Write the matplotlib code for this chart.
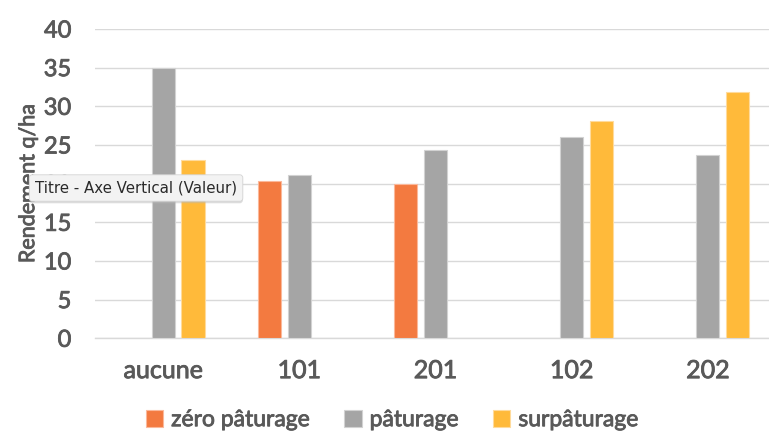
import numpy as np
from matplotlib import pyplot as plt
from matplotlib import patheffects as pe

# Rendement par conduite de pâturage
categories = ['aucune', '101', '201', '102', '202']
series_names = ['zéro pâturage', 'pâturage', 'surpâturage']
zero_paturage = [np.nan, 20.4, 19.9, np.nan, np.nan]
paturage = [34.9, 21.1, 24.3, 26.0, 23.7]
surpaturage = [23.0, np.nan, np.nan, 28.1, 31.8]
y_ticks = [0, 5, 10, 15, 20, 25, 30, 35, 40]

colors = ['#F37A40', '#A5A5A5', '#FFBA3A']
edges = ['#FBB89A', '#D2D2D2', '#FFDB9C']
text_col = '#595959'
# léger épaississement du texte
thick = [pe.withStroke(linewidth=0.6, foreground=text_col)]

plt.rcParams['font.family'] = ['Lato', 'DejaVu Sans']

fig = plt.figure(figsize=(7.69, 4.34), dpi=100)
ax = fig.add_axes([95/769, (434-338.3)/434, 681/769, 309.3/434])

x = np.arange(len(categories))
width = 0.17
offsets = [-0.22, 0.0, 0.22]
for vals, off, c, ec, name in zip([zero_paturage, paturage, surpaturage],
                                   offsets, colors, edges, series_names):
    ax.bar(x + off, vals, width, color=c, edgecolor=ec, linewidth=0.8,
           label=name, zorder=3)

ax.set_xlim(-0.5, len(categories) - 0.5)
ax.set_ylim(0, 40)
ax.set_yticks(y_ticks)
ax.set_xticks(x)
ax.set_xticklabels(categories)
ax.tick_params(axis='both', length=0, colors=text_col)
ax.tick_params(axis='x', pad=15, labelsize=18)
ax.tick_params(axis='y', pad=17, labelsize=17)
for lbl in ax.get_xticklabels() + ax.get_yticklabels():
    lbl.set_path_effects(thick)

ax.grid(axis='y', color='#D9D9D9', linewidth=1.0, zorder=0)
for side in ['top', 'right', 'left']:
    ax.spines[side].set_visible(False)
ax.spines['bottom'].set_color('#D9D9D9')
ax.spines['bottom'].set_linewidth(1.0)

ax.set_ylabel('Rendement q/ha', color=text_col, fontsize=15.5, labelpad=4,
              path_effects=thick)

leg = fig.legend(loc='center', bbox_to_anchor=(0.51, 0.033), ncol=3,
                 frameon=False, handlelength=0.75, handleheight=0.75,
                 handletextpad=0.35, columnspacing=1.5, prop={'size': 16.5})
for t in leg.get_texts():
    t.set_color(text_col)
    t.set_path_effects(thick)

# info-bulle de l'axe vertical
tip = fig.text(35/769, (434-188)/434, 'Titre - Axe Vertical (Valeur)',
               fontsize=10.8, color='#2A2A2A', va='center', ha='left',
               family='DejaVu Sans', zorder=10,
               bbox=dict(boxstyle='round,pad=0.38,rounding_size=0.2',
                         facecolor='#F3F3F3', edgecolor='#D4D4D4', linewidth=0.6))
tip.get_bbox_patch().set_path_effects(
    [pe.withSimplePatchShadow(offset=(0, -1.5), shadow_rgbFace='#BBBBBB', alpha=0.5)])

fig.savefig('out.png', dpi=100)
